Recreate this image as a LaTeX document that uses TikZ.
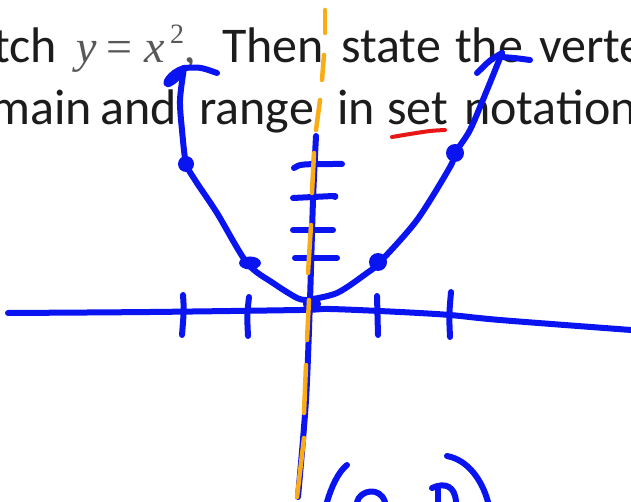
\documentclass[tikz,border=0pt]{standalone}
\usepackage{fontspec}
\setmainfont{Carlito}
\newfontfamily\timesf{Liberation Serif}
\definecolor{penblue}{RGB}{10,20,240}
\definecolor{penorange}{RGB}{250,172,20}
\definecolor{penred}{RGB}{232,22,22}
\definecolor{txt}{RGB}{28,28,28}
\definecolor{mathgray}{RGB}{88,88,88}
\begin{document}
\begin{tikzpicture}[x=1pt,y=-1pt,
  word/.style={anchor=base west, inner sep=0pt, text=txt, font=\fontsize{50}{52}\selectfont},
  mword/.style={anchor=base west, inner sep=0pt, text=mathgray, font=\timesf\fontsize{46}{48}\selectfont},
  ink/.style={draw=penblue, line width=6pt, line cap=round, line join=round},
  dot/.style={fill=penblue},
  hl/.style={draw=penorange, line width=4.5pt, line cap=round},
  redink/.style={draw=penred, line width=4pt, line cap=round}]
\useasboundingbox (0,0) rectangle (631,502);
\clip (0,0) rectangle (631,502);
\fill[white] (0,0) rectangle (631,502);
% text line 1
\node[word, anchor=base east] (w1) at (57,63) {tch};
\node[mword] (m1) at (76,63) {\itshape y};
\node[mword] (m2) at (106,63) {=};
\node[mword] (m3) at (144,63) {\itshape x};
\node[mword, font=\timesf\fontsize{28}{30}\selectfont] (m4) at (170,44) {2};
\node[mword] (m5) at (184,63) {,};
\node[word] (w2) at (222,63) {Then};
\node[word] (w3) at (341,63) {state};
\node[word] (w4) at (455,63) {the};
\node[word] (w5) at (539,63) {verte};
% text line 2
\node[word, anchor=base east] (l1) at (92,125) {main};
\node[word] (l2) at (100,125) {and};
\node[word] (l3) at (199,125) {range};
\node[word] (l4) at (337,125) {in};
\node[word] (l5) at (387,125) {set};
\node[word] (l6) at (464,125) {notation};
% x axis
\draw[ink] plot[smooth] coordinates {(8,313) (150,312) (300,310) (330,309) (400,312) (450,315) (500,320) (631,330)};
% x ticks
\draw[ink] (183,295) .. controls (184,310) .. (182,335);
\draw[ink] (249,297) .. controls (247,315) .. (248,336);
\draw[ink] (377,296) .. controls (378,315) .. (378,335);
\draw[ink] (451,292) .. controls (449,315) .. (450,337);
% y axis
\draw[ink] plot[smooth] coordinates {(316,136) (313,200) (310,300) (306,400) (298,497)};
\fill[penblue] (312,304) ellipse (9 and 7);
% y ticks
\draw[ink] (294,168) .. controls (300,164) .. (342,164);
\draw[ink] (293,198) -- (333,196) .. controls (336,196) .. (335,197);
\draw[ink] (293,230) -- (333,230);
\draw[ink] (295,258) -- (337,258);
% parabola left
\draw[ink] plot[smooth] coordinates {(307,300) (297,298) (273,283) (247,263) (217,213) (195,180) (186,163) (182,130) (180,100) (184,68)};
\draw[ink] (184,68) .. controls (170,72) and (162,86) .. (169,84) .. controls (176,80) .. (183,70);
\draw[ink] (184,68) .. controls (200,67) .. (217,73);
% parabola right
\draw[ink] plot[smooth] coordinates {(307,300) (337,293) (367,273) (380,262) (417,220) (450,167) (455,153) (470,130) (487,90) (502,53)};
\draw[ink] (502,53) .. controls (490,60) .. (477,73);
\draw[ink] (502,57) .. controls (515,58) .. (530,60);
% dots
\fill[dot] (186,164) circle (8);
\fill[dot] (250,263) ellipse (11 and 6.5);
\fill[dot] (378,262) circle (9);
\fill[dot] (455,153) circle (9);
% (0,0) at bottom
\draw[ink] (347,465) .. controls (338,472) and (331,488) .. (327,502);
\draw[ink] (357,502) .. controls (360,490) and (380,486) .. (385,502);
\draw[ink] (438,489) -- (438,502);
\draw[ink] (432,488) .. controls (445,482) and (455,486) .. (456,502);
\draw[ink] (447,456) .. controls (468,460) and (482,480) .. (488,502);
% orange dashes
\draw[hl] (325,10) -- (325,33);
\draw[hl] (324,55) -- (322,80);
\draw[hl] (320,100) -- (316,130);
\draw[hl] (314,153) -- (312,193);
\draw[hl] (311,225) -- (308,273);
\draw[hl] (309,300) -- (307,340);
\draw[hl] (306,365) -- (304,413);
\draw[hl] (304,438) -- (297,497);
% red underline
\draw[redink] plot[smooth] coordinates {(392,137) (410,134) (430,131) (445,130)};
\end{tikzpicture}
\end{document}
